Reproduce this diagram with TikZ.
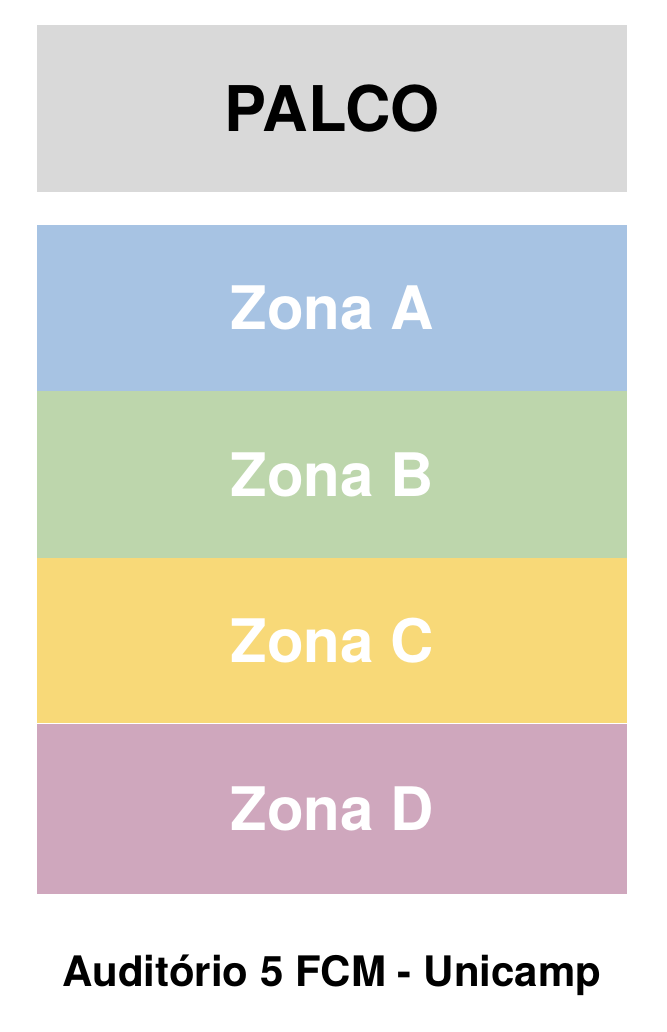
\documentclass[tikz,border=0pt]{standalone}
\usepackage{fontspec}
\setmainfont{TeX Gyre Heros}
\usepackage{tikz}
\usetikzlibrary{positioning}
\definecolor{palcogray}{HTML}{D9D9D9}
\definecolor{zonablue}{HTML}{A7C3E3}
\definecolor{zonagreen}{HTML}{BDD6AC}
\definecolor{zonayellow}{HTML}{F8D978}
\definecolor{zonapink}{HTML}{CFA7BD}

\begin{document}
\begin{tikzpicture}[
        x=1pt,y=-1pt,
        area/.style={rectangle,inner sep=0pt,minimum width=590pt,minimum height=167pt,font=\fontsize{60}{66}\selectfont\bfseries,text=white}
    ]
        \useasboundingbox (0,0) rectangle (666,1032);

        \node [area,fill=palcogray,text=black,font=\fontsize{63}{70}\selectfont\bfseries,anchor=north west] (palco) at (37,25) {PALCO};
        \node [area,fill=zonablue,below=32pt of palco,minimum height=166pt] (zonaA) {Zona A};
        \node [area,fill=zonagreen,below=0pt of zonaA] (zonaB) {Zona B};
        \node [area,fill=zonayellow,below=0pt of zonaB,minimum height=165pt] (zonaC) {Zona C};
        \node [area,fill=zonapink,below=0pt of zonaC,minimum height=170pt] (zonaD) {Zona D};

        \node [font=\fontsize{42}{48}\selectfont\bfseries] (legenda) at (332,975) {Auditório 5 FCM - Unicamp};
    \end{tikzpicture}
\end{document}
